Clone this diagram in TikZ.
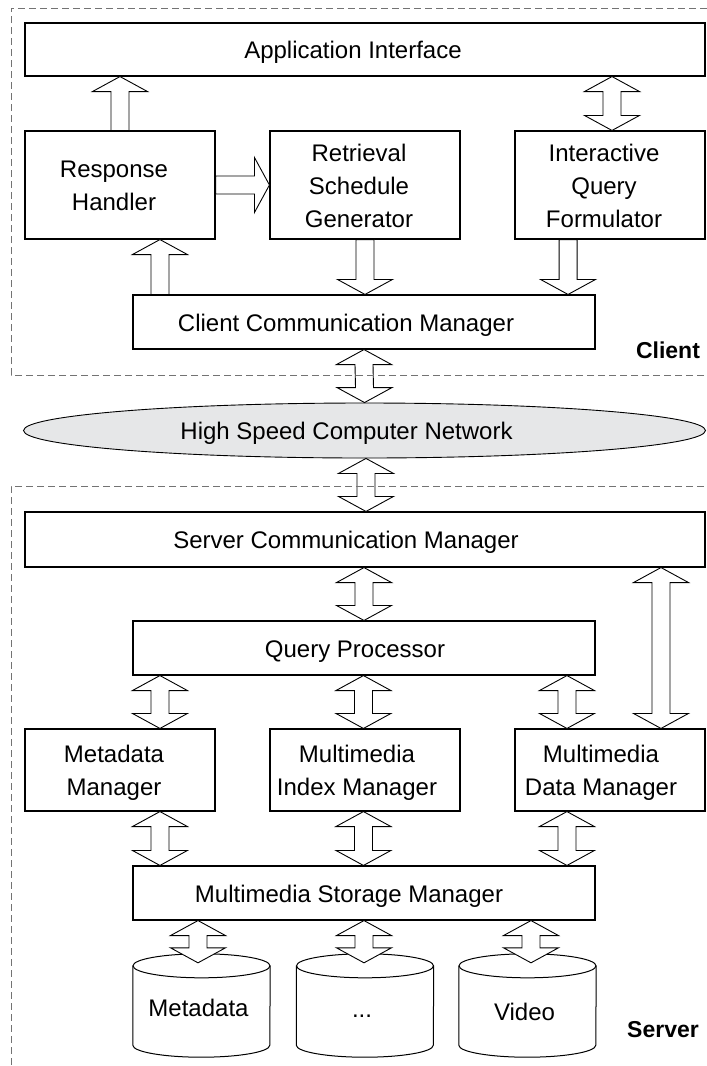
\documentclass[tikz,border=0pt]{standalone}
\usepackage{fontspec}
\setmainfont{Liberation Sans}
\usetikzlibrary{calc,shapes.geometric}

% block arrows: white body with a thin black outline
% double arrow: #1 upper tip, #2 lower tip
\newcommand\dbarrow[2]{%
  \draw[blockarrow] (#1) -- ++(27.5,-15) -- ++(-18.5,0) -- ($(#2)+(9,15)$) -- ++(18.5,0)
    -- (#2) -- ++(-27.5,15) -- ++(18.5,0) -- ($(#1)+(-9,-15)$) -- ++(-18.5,0) -- cycle;}
% single arrow pointing up: #1 tip, #2 tail
\newcommand\uparr[2]{%
  \draw[blockarrow] (#1) -- ++(27.5,-15) -- ++(-18.5,0) -- ($(#2)+(9,0)$) -- ++(-18,0)
    -- ($(#1)+(-9,-15)$) -- ++(-18.5,0) -- cycle;}
% single arrow pointing down: #1 tail, #2 tip
\newcommand\downarr[2]{%
  \draw[blockarrow] ($(#1)+(-9,0)$) -- ++(18,0) -- ($(#2)+(9,15)$) -- ++(18.5,0)
    -- (#2) -- ++(-27.5,15) -- ++(18.5,0) -- cycle;}
% single arrow pointing right: #1 tail, #2 tip
\newcommand\rightarr[2]{%
  \draw[blockarrow] ($(#1)+(0,9)$) -- ($(#2)+(-15,9)$) -- ++(0,18.5) -- (#2)
    -- ++(-15,-27.5) -- ++(0,18.5) -- ($(#1)+(0,-9)$) -- cycle;}
% centred lines, set a little left of and below the box centre (#1 = twice the offset)
\newcommand\lines[2]{\raisebox{-2.5pt}[\height][\depth]{\begin{tabular}{@{}c@{}}#2\end{tabular}}\hspace*{#1}}
\newcommand\moredata{...}

\tikzset{
  box/.style={draw=black, line width=1.1pt, fill=white, inner sep=0pt,
    font=\fontsize{24}{33}\selectfont},
  wide/.style={box, minimum width=462pt, minimum height=54pt},
  full/.style={box, minimum width=680pt, minimum height=54pt},
  small/.style={box, minimum width=190pt},
  blockarrow/.style={draw=black, line width=0.9pt, fill=white, line join=miter},
  frame/.style={draw=black!55, line width=0.9pt, dash pattern=on 7pt off 4pt},
  tag/.style={font=\fontsize{23}{28}\selectfont\bfseries, inner sep=0pt},
  dbtext/.style={inner sep=0pt, minimum width=137pt, minimum height=103pt},
  dblabel/.style={font=\fontsize{24}{33}\selectfont, inner sep=0pt},
}

\begin{document}
\begin{tikzpicture}[x=1pt,y=1pt]
\useasboundingbox (0,0) rectangle (707,-1066);

% ---------- client side ----------
\node[full, minimum height=53pt] (app) at (365,-49.5) {\lines{24pt}{Application Interface}};
\node[small, minimum height=108pt] (rh)  at (120,-185) {\lines{12pt}{Response\\Handler}};
\node[small, minimum height=108pt] (rsg) at (365,-185) {\lines{12pt}{Retrieval\\Schedule\\Generator}};
\node[small, minimum height=108pt] (iqf) at (610,-185) {\lines{12pt}{Interactive\\Query\\Formulator}};
\node[wide] (ccm) at (364,-322) {\lines{36pt}{Client Communication Manager}};

% ---------- network ----------
\node[ellipse, draw=black, line width=0.9pt, fill={rgb,255:red,230;green,231;blue,232},
  minimum width=682pt, minimum height=55pt, inner sep=0pt,
  font=\fontsize{24}{33}\selectfont] (net) at (364.5,-430.5)
  {\lines{36pt}{High Speed Computer Network}};

% ---------- server side ----------
\node[full, minimum height=55pt] (scm) at (365,-539.5) {\lines{38pt}{Server Communication Manager}};
\node[wide] (qp) at (364,-648) {\lines{18pt}{Query Processor}};
\node[small, minimum height=82pt] (mm)  at (120,-770) {\lines{12pt}{Metadata\\Manager}};
\node[small, minimum height=82pt] (mim) at (365,-770) {\lines{16pt}{Multimedia\\Index Manager}};
\node[small, minimum height=82pt] (mdm) at (610,-770) {\lines{18pt}{Multimedia\\Data Manager}};
\node[wide] (msm) at (364,-893) {\lines{30pt}{Multimedia Storage Manager}};

% storage cylinders
\foreach \nm/\cx/\ty/\txt in {db1/201.5/-2/Metadata, db2/365/-11/\moredata, db3/527.5/-6/Video}{
  \node[dbtext] (\nm) at (\cx,-1005.5) {};
  \draw[line width=1pt, fill=white]
    ([yshift=-12pt]\nm.north west) -- ([yshift=12pt]\nm.south west)
    arc[start angle=180, end angle=360, x radius=68.5, y radius=12]
    -- ([yshift=-12pt]\nm.north east);
  \draw[line width=1pt] ([yshift=-12pt]\nm.north) ellipse[x radius=68.5, y radius=12];
  \node[dblabel] (\nm t) at ([xshift=-3pt,yshift=\ty pt]\nm.center) {\txt};
}

% ---------- arrows ----------
% client
\coordinate (rhA) at (app.south -| rh.north);
\uparr{rhA}{rh.north}
\coordinate (iqfT) at ([xshift=2pt]iqf.north |- app.south);
\coordinate (iqfB) at ([xshift=2pt]iqf.north);
\dbarrow{iqfT}{iqfB}
\coordinate (rsgW) at (rsg.west |- rh.east);
\rightarr{rh.east}{rsgW}
\coordinate (ccmL) at ([xshift=27.5pt]ccm.north west);
\coordinate (rhB) at (rh.south -| ccmL);
\uparr{rhB}{ccmL}
\coordinate (ccmM) at (ccm.north -| rsg.south);
\downarr{rsg.south}{ccmM}
\coordinate (ccmR) at ([xshift=-27.5pt]ccm.north east);
\coordinate (iqfS) at (iqf.south -| ccmR);
\downarr{iqfS}{ccmR}
% network
\dbarrow{ccm.south}{net.north}
\coordinate (netS) at ([xshift=1.5pt]net.south);
\coordinate (scmN) at (scm.north -| netS);
\dbarrow{netS}{scmN}
% server
\coordinate (scmQ) at (scm.south -| qp.north);
\dbarrow{scmQ}{qp.north}
\coordinate (mdmR) at ([xshift=51pt]mdm.north);
\coordinate (scmR) at (scm.south -| mdmR);
\dbarrow{scmR}{mdmR}
\foreach \b/\x in {mm/27.5, mim/231, mdm/434.5}{
  \coordinate (qp\b) at ([xshift=\x pt]qp.south west);
  \coordinate (to\b) at (\b.north -| qp\b);
  \dbarrow{qp\b}{to\b}
  \coordinate (fr\b) at (\b.south -| qp\b);
  \coordinate (ms\b) at (msm.north -| qp\b);
  \dbarrow{fr\b}{ms\b}
}
\foreach \d/\dx in {db1/-3.5, db2/-1, db3/3.5}{
  \coordinate (dbT\d) at ([xshift=\dx pt]\d.north);
  \coordinate (msT\d) at (msm.south -| dbT\d);
  \coordinate (dbB\d) at ([yshift=-9pt]dbT\d);
  \dbarrow{msT\d}{dbB\d}
}

% ---------- client / server frames ----------
\draw[frame] (715,-375) -- (11,-375) -- (11,-8) -- (715,-8);
\draw[frame] (715,-486) -- (11,-486) -- (11,-1075);
\node[tag] (client) at (668,-350) {Client};
\node[tag] (server) at (663,-1030) {Server};
\end{tikzpicture}
\end{document}
